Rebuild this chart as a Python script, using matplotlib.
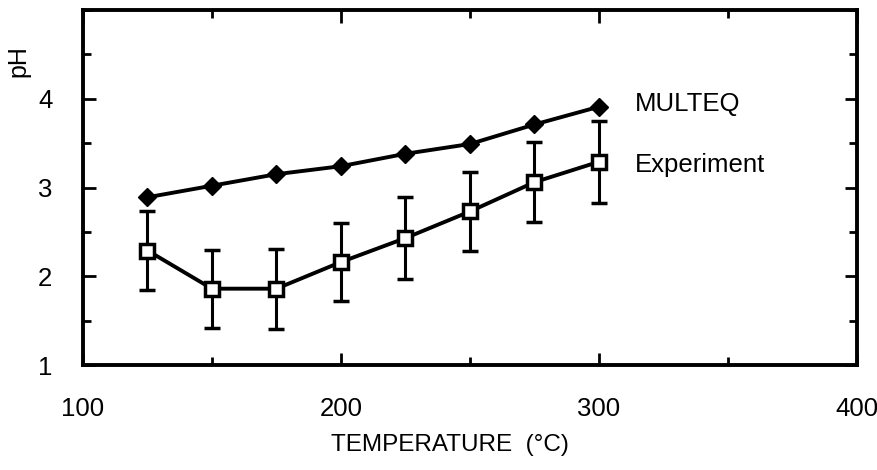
import matplotlib
matplotlib.use("Agg")
import matplotlib.pyplot as plt
from matplotlib.ticker import MultipleLocator

plt.rcParams['font.family'] = ['Liberation Sans', 'DejaVu Sans']

### values
temps = [125, 150, 175, 200, 225, 250, 275, 300]
ph_multeq = [2.89, 3.02, 3.15, 3.24, 3.38, 3.49, 3.71, 3.91]
ph_exp = [2.29, 1.86, 1.86, 2.16, 2.43, 2.73, 3.06, 3.29]
ph_err = [0.44, 0.44, 0.45, 0.44, 0.46, 0.45, 0.45, 0.46]

fig = plt.figure(figsize=(8.78, 4.70), dpi=100)
ax = fig.add_axes([0.0945, 0.2234, 0.8815, 0.7553])

ax.plot(temps, ph_multeq, color="black", lw=2.8, marker="D", markersize=9,
        markerfacecolor="black", markeredgecolor="black")
ax.errorbar(temps, ph_exp, yerr=ph_err, color="black", lw=2.8, elinewidth=2.2,
            capsize=6, capthick=2.8, marker="s", markersize=10,
            markerfacecolor="white", markeredgecolor="black", markeredgewidth=2.5)
ax.plot(temps, ph_exp, ls="none", marker="s", markersize=2.4, color="black")

ax.text(314, 3.94, "MULTEQ", fontsize=18.5, va="center", ha="left")
ax.text(314, 3.25, "Experiment", fontsize=18.5, va="center", ha="left")

ax.set_xlim(100, 400)
ax.set_ylim(1, 5)
ax.set_xticks([100, 200, 300, 400])
ax.xaxis.set_minor_locator(MultipleLocator(50))
ax.set_yticks([1, 2, 3, 4])
ax.yaxis.set_minor_locator(MultipleLocator(0.5))
ax.tick_params(which="both", direction="in", top=True, right=True, width=2)
ax.tick_params(which="major", length=9)
ax.tick_params(which="minor", length=6)
ax.tick_params(axis="x", which="major", labelsize=18.5, pad=23)
ax.tick_params(axis="y", which="major", labelsize=18.5, pad=22)
for s in ax.spines.values():
    s.set_linewidth(2.8)

fig.text(0.021, 0.87, "pH", rotation=90, fontsize=18, ha="center", va="center")
fig.text(0.513, 0.053, "TEMPERATURE  (°C)", fontsize=17.5, ha="center", va="center")

fig.savefig("out.png", dpi=100)
